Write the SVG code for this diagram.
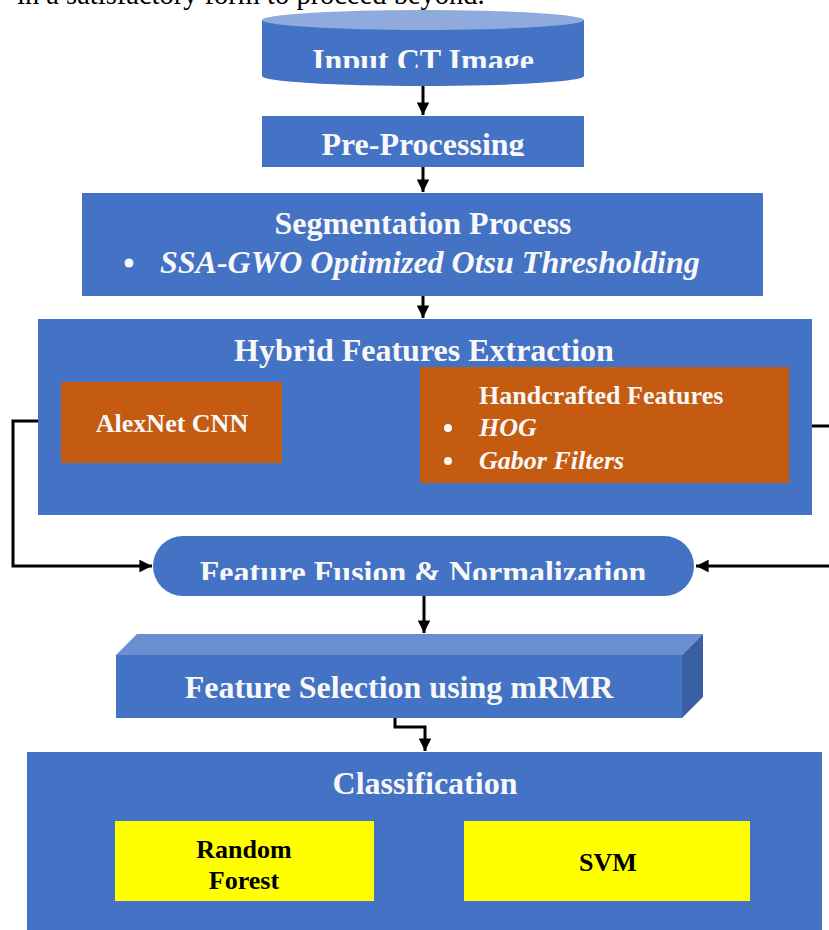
<svg xmlns="http://www.w3.org/2000/svg" width="829" height="930" viewBox="0 0 829 930">
<style>
.t{font-family:"Liberation Serif","Times New Roman",serif;font-weight:bold;fill:#F8F8F8;text-anchor:middle}
.t32{font-size:32px}
.t26{font-size:26px}
.i{font-style:italic}
.blk{fill:#000}
.blue{fill:#4472C4}
.org{fill:#C55A11}
.yel{fill:#FFFF00}
.ln{fill:none;stroke:#000;stroke-width:3}
</style>
<defs>
<marker id="ah" viewBox="0 0 10 10" refX="10" refY="5" markerWidth="4.2" markerHeight="4.2" orient="auto" markerUnits="strokeWidth">
<path d="M0,0 L10,5 L0,10 z" fill="#000"/>
</marker>
<clipPath id="c1"><rect x="0" y="0" width="829" height="68"/></clipPath>
<clipPath id="c2"><rect x="0" y="0" width="829" height="156"/></clipPath>
<clipPath id="c3"><rect x="0" y="0" width="829" height="580"/></clipPath>
</defs>
<rect width="829" height="930" fill="#fff"/>
<text x="17" y="4" font-family="Liberation Serif, serif" font-size="28.5" fill="#000">in a satisfactory form to proceed beyond.</text>

<g id="connectors">
<path class="ln" d="M423 86 V115" marker-end="url(#ah)"/>
<path class="ln" d="M423 167 V192" marker-end="url(#ah)"/>
<path class="ln" d="M423 296 V318" marker-end="url(#ah)"/>
<path class="ln" d="M61 421 H13 V566 H152" marker-end="url(#ah)"/>
<path class="ln" d="M789 426 H840 V566 H696" marker-end="url(#ah)"/>
<path class="ln" d="M424 596 V633" marker-end="url(#ah)"/>
<path class="ln" d="M395 718 V727 H425 V751" marker-end="url(#ah)"/>
</g>

<g id="input">
<path class="blue" d="M262 20 V76 A161 10 0 0 0 584 76 V20 z"/>
<ellipse cx="423" cy="20" rx="161" ry="10" fill="#8FAADC"/>
<text class="t t32" x="423" y="70.5" clip-path="url(#c1)">Input CT Image</text>
</g>

<g id="preprocessing">
<rect class="blue" x="262" y="116" width="322" height="51"/>
<text class="t t32" x="423" y="155" clip-path="url(#c2)">Pre-Processing</text>
</g>

<g id="segmentation">
<rect class="blue" x="82" y="193" width="681" height="103"/>
<text class="t t32" x="423" y="234">Segmentation Process</text>
<circle cx="129" cy="263" r="4.5" fill="#F8F8F8"/>
<text class="t t32 i" x="160" y="273" style="text-anchor:start">SSA-GWO Optimized Otsu Thresholding</text>
</g>

<g id="hybrid">
<rect class="blue" x="38" y="319" width="774" height="196"/>
<text class="t t32" x="424" y="361">Hybrid Features Extraction</text>
</g>

<g id="alexnet">
<rect class="org" x="61" y="382" width="221" height="81"/>
<text class="t t26" x="172" y="432">AlexNet CNN</text>
</g>

<g id="handcrafted">
<rect class="org" x="420" y="367" width="369" height="116"/>
<text class="t t26" x="479" y="404" style="text-anchor:start">Handcrafted Features</text>
<circle cx="448" cy="428" r="4" fill="#F8F8F8"/>
<text class="t t26 i" x="479" y="436" style="text-anchor:start">HOG</text>
<circle cx="448" cy="461" r="4" fill="#F8F8F8"/>
<text class="t t26 i" x="479" y="469" style="text-anchor:start">Gabor Filters</text>
</g>

<g id="fusion">
<rect class="blue" x="153" y="536" width="541" height="60" rx="30" ry="30"/>
<text class="t t32" x="423" y="583" clip-path="url(#c3)">Feature Fusion &amp; Normalization</text>
</g>

<g id="selection">
<path d="M116 655 L137 634 H703 L682 655 z" fill="#6A8FD0"/>
<path d="M682 655 L703 634 V697 L682 718 z" fill="#3A5FA3"/>
<rect class="blue" x="116" y="655" width="566" height="63"/>
<text class="t t32" x="399" y="698">Feature Selection using mRMR</text>
</g>

<g id="classification">
<rect class="blue" x="27" y="752" width="795" height="178"/>
<text class="t t32" x="425" y="794">Classification</text>
</g>

<g id="randomforest">
<rect class="yel" x="115" y="821" width="259" height="80"/>
<text class="t t26" x="244" y="858" style="fill:#000">Random</text>
<text class="t t26" x="244" y="889" style="fill:#000">Forest</text>
</g>

<g id="svm">
<rect class="yel" x="464" y="821" width="286" height="80"/>
<text class="t t26" x="608" y="871" style="fill:#000">SVM</text>
</g>
</svg>
